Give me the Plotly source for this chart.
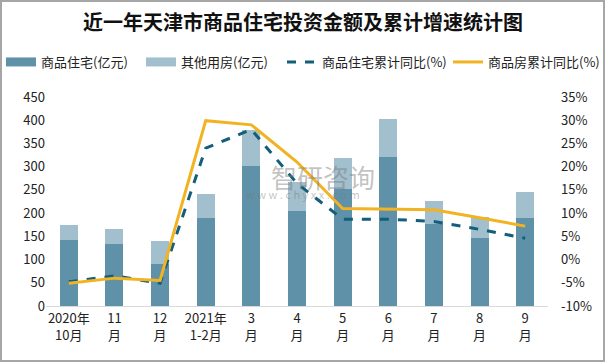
import plotly.graph_objects as go

categories = ["2020年<br>10月", "11<br>月", "12<br>月", "2021年<br>1-2月", "3<br>月", "4<br>月",
              "5<br>月", "6<br>月", "7<br>月", "8<br>月", "9<br>月"]
residential = [142, 134, 90, 190, 302, 205, 252, 321, 177, 146, 190]
other_use = [32, 32, 50, 51, 77, 61, 67, 82, 49, 46, 56]
residential_yoy = [-4.8, -3.5, -5.1, 24.0, 28.0, 16.4, 8.7, 8.7, 8.2, 6.5, 4.6]
total_yoy = [-5.1, -4.0, -4.5, 29.9, 29.0, 21.0, 11.0, 10.8, 10.7, 9.0, 7.2]

left_ticks = list(range(0, 451, 50))
right_ticks = list(range(-10, 36, 5))
right_labels = [f"{v}%" for v in right_ticks]

font_cjk = "Noto Sans CJK SC"
c_res, c_other, c_res_line, c_total_line = "#5f91a8", "#a1bfcc", "#135e7b", "#f2b322"

fig = go.Figure()
fig.add_trace(go.Bar(x=categories, y=residential, name="商品住宅(亿元)", legendgroup="res",
                     showlegend=False, marker=dict(color=c_res, line=dict(width=0))))
fig.add_trace(go.Bar(x=categories, y=other_use, name="其他用房(亿元)", legendgroup="oth",
                     showlegend=False, marker=dict(color=c_other, line=dict(width=0))))
# legend entries for the bars drawn as wide swatches (like the original)
fig.add_trace(go.Scatter(x=[None], y=[None], name="商品住宅(亿元)", legendgroup="res",
                         mode="lines", line=dict(color=c_res, width=9), legend="legend"))
fig.add_trace(go.Scatter(x=[None], y=[None], name="其他用房(亿元)", legendgroup="oth",
                         mode="lines", line=dict(color=c_other, width=9), legend="legend"))
fig.add_trace(go.Scatter(x=categories, y=residential_yoy, name="商品住宅累计同比(%)",
                         yaxis="y2", mode="lines", legend="legend2",
                         line=dict(color=c_res_line, width=3, dash="dash")))
fig.add_trace(go.Scatter(x=categories, y=total_yoy, name="商品房累计同比(%)",
                         yaxis="y2", mode="lines", legend="legend2",
                         line=dict(color=c_total_line, width=3)))

legend_common = dict(orientation="h", xref="paper", yref="paper", xanchor="left",
                     y=(306 - 62) / 209, yanchor="middle",
                     font=dict(size=13, color="#222222"), bgcolor="rgba(0,0,0,0)",
                     borderwidth=0, itemwidth=30, tracegroupgap=0, traceorder="normal",
                     entrywidthmode="pixels")

fig.update_layout(
    width=606, height=363,
    margin=dict(l=46, r=58, t=97, b=57, autoexpand=False),
    paper_bgcolor="white", plot_bgcolor="white",
    barmode="stack", bargap=0.605,
    font=dict(family=font_cjk, size=13, color="#222222"),
    title=dict(text="<b>近一年天津市商品住宅投资金额及累计增速统计图</b>",
               x=0.5, xanchor="center", xref="container",
               y=1 - 23 / 363, yanchor="middle", yref="container",
               font=dict(family=font_cjk, size=20, color="#111111")),
    legend=dict(legend_common, x=-45 / 502, entrywidth=95),
    legend2=dict(legend_common, x=(282 - 46) / 502, entrywidth=121),
    xaxis=dict(showgrid=False, showline=True, linecolor="#d9d9d9", linewidth=1,
               ticks="", tickfont=dict(size=13), fixedrange=True),
    yaxis=dict(range=[0, 450], tickvals=left_ticks, showgrid=False, zeroline=False,
               showline=False, ticks="", tickfont=dict(size=13)),
    yaxis2=dict(range=[-10, 35], tickvals=right_ticks, ticktext=right_labels,
                overlaying="y", side="right", showgrid=False, zeroline=False,
                showline=False, ticks="", tickfont=dict(size=13),
                ticklabelstandoff=12),
    shapes=[dict(type="rect", xref="paper", yref="paper", x0=-45/502, x1=1+56/502,
                 y0=-55/209, y1=1+96/209, line=dict(color="#a6a6a6", width=2),
                 fillcolor="rgba(0,0,0,0)", layer="below")],
    annotations=[
        dict(text="智研咨询", xref="paper", yref="paper", x=0.552, y=0.622,
             showarrow=False, font=dict(size=26, color="rgba(120,120,120,0.45)")),
        dict(text="w w w . c h y x x . c o m", xref="paper", yref="paper", x=0.512, y=0.536,
             showarrow=False, font=dict(size=11, color="rgba(120,120,120,0.45)")),
    ],
)

fig.write_html("out.html", config={"displayModeBar": False},
               post_script="document.body.style.margin='0';")
